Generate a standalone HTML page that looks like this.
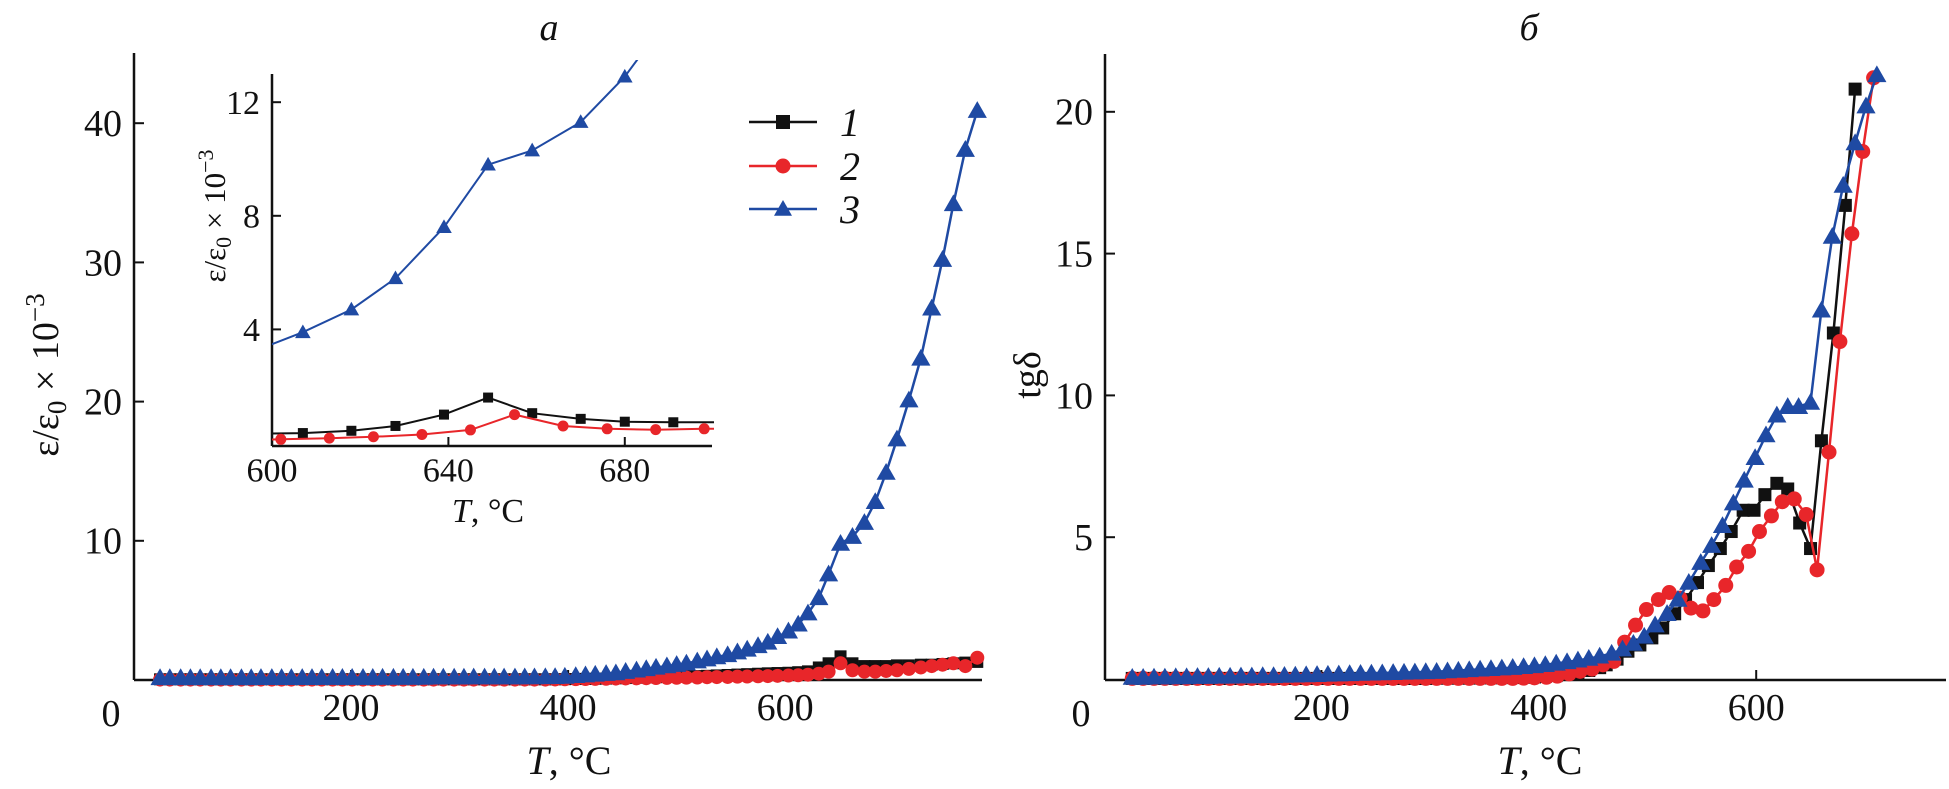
<!DOCTYPE html>
<html><head><meta charset="utf-8">
<style>
html,body{margin:0;padding:0;background:#fff;}
svg{display:block;font-family:"Liberation Serif",serif;}
</style></head>
<body>
<svg id="chart" width="1949" height="789" viewBox="0 0 1949 789" xmlns="http://www.w3.org/2000/svg">
<defs>
<clipPath id="insetClip"><rect x="272" y="60" width="442" height="386"/></clipPath>
</defs>
<g id="left"></g>
<g id="right"></g>
</svg>
<script>
// ---------- Panel a (main) ----------
const aT = [24,33,43,52,61,71,80,89,99,108,117,127,136,145,155,164,173,183,192,201,211,220,229,239,248,257,267,276,285,295,304,313,323,332,341,351,360,369,379,388,397,407,416,425,435,444,453,463,472,481,491,500,509,519,528,537,547,556,565,575,584,593,603,612,621,631,640,651,662,673,683,693,703,714,725,735,745,755,766,777];
const aBlue = [0.15,0.15,0.15,0.15,0.15,0.15,0.15,0.15,0.15,0.15,0.16,0.16,0.16,0.16,0.16,0.16,0.17,0.17,0.17,0.17,0.17,0.17,0.18,0.18,0.18,0.18,0.18,0.19,0.19,0.19,0.19,0.2,0.2,0.2,0.2,0.2,0.21,0.21,0.22,0.23,0.25,0.3,0.35,0.4,0.45,0.5,0.6,0.7,0.8,0.9,1.0,1.1,1.2,1.35,1.5,1.65,1.8,2.0,2.2,2.45,2.7,3.1,3.5,4.0,4.8,5.9,7.6,9.8,10.3,11.3,12.8,14.9,17.3,20.1,23.1,26.7,30.2,34.2,38.1,40.9];
const aBlack = [0.05,0.05,0.05,0.05,0.05,0.05,0.05,0.05,0.05,0.05,0.05,0.05,0.05,0.05,0.05,0.05,0.05,0.05,0.05,0.05,0.05,0.05,0.05,0.05,0.05,0.05,0.05,0.05,0.05,0.05,0.05,0.05,0.05,0.05,0.05,0.05,0.05,0.05,0.05,0.05,0.06,0.07,0.08,0.09,0.1,0.12,0.14,0.16,0.18,0.2,0.22,0.24,0.26,0.28,0.3,0.33,0.36,0.39,0.42,0.45,0.48,0.5,0.52,0.56,0.62,0.9,1.2,1.7,1.2,1.0,1.0,1.0,1.05,1.05,1.1,1.1,1.15,1.2,1.25,1.3];
const aRed = [0.03,0.03,0.03,0.03,0.03,0.03,0.03,0.03,0.03,0.03,0.03,0.03,0.03,0.03,0.03,0.03,0.03,0.03,0.03,0.03,0.03,0.03,0.03,0.03,0.03,0.03,0.03,0.03,0.03,0.03,0.03,0.03,0.03,0.03,0.03,0.03,0.03,0.03,0.03,0.04,0.05,0.06,0.07,0.08,0.09,0.1,0.11,0.12,0.13,0.14,0.15,0.16,0.17,0.18,0.2,0.21,0.22,0.24,0.25,0.27,0.28,0.3,0.32,0.34,0.38,0.45,0.6,1.2,0.7,0.6,0.6,0.65,0.7,0.8,0.9,1.0,1.1,1.2,1.0,1.6];
const aXTicks = [200,400,600];
const aYTicks = [10,20,30,40];

// ---------- Panel a (inset) ----------
const iTBlue = [597,607,618,628,639,649,659,670,680,690];
const iBlue = [3.3,3.9,4.7,5.8,7.6,9.8,10.3,11.3,12.9,15.0];
const iTBlack = [597,607,618,628,639,649,659,670,680,691,703];
const iBlack = [0.33,0.35,0.43,0.6,1.0,1.6,1.05,0.85,0.75,0.73,0.73];
const iTRed = [598,602,613,623,634,645,655,666,676,687,698,703];
const iRed = [0.12,0.13,0.17,0.22,0.3,0.46,1.0,0.6,0.5,0.47,0.5,0.5];
const iXTicks = [600,640,680];
const iYTicks = [4,8,12];

// ---------- Panel b ----------
const bTBlue = [26,36,46,56,66,76,86,96,106,116,126,136,146,156,166,176,186,196,206,216,226,236,246,256,266,276,286,296,306,316,326,336,346,356,366,376,386,396,406,416,426,436,446,456,467,477,487,497,507,518,528,538,549,559,569,579,589,599,609,619,629,639,650,660,670,680,691,701,711];
const bBlue = [0.05,0.05,0.06,0.06,0.07,0.07,0.08,0.08,0.09,0.09,0.1,0.1,0.11,0.11,0.12,0.13,0.14,0.15,0.16,0.17,0.18,0.19,0.2,0.21,0.22,0.23,0.24,0.25,0.26,0.28,0.3,0.32,0.34,0.36,0.38,0.4,0.43,0.46,0.5,0.55,0.6,0.66,0.72,0.8,0.9,1.05,1.25,1.5,1.9,2.3,2.8,3.4,4.1,4.7,5.4,6.2,7.0,7.8,8.6,9.3,9.6,9.6,9.75,13.0,15.6,17.4,18.9,20.2,21.3];
const bTBlack = [26,36,46,56,66,76,86,96,106,116,126,136,146,156,166,176,186,196,206,216,226,236,246,256,266,276,286,296,306,316,326,336,346,356,366,376,386,396,406,416,426,436,446,456,462,472,482,493,504,514,525,535,546,556,567,577,588,598,608,619,629,640,650,660,671,682,691];
const bBlack = [0.02,0.02,0.02,0.02,0.02,0.02,0.02,0.02,0.02,0.02,0.02,0.02,0.02,0.02,0.02,0.02,0.02,0.02,0.02,0.02,0.02,0.02,0.02,0.02,0.02,0.02,0.02,0.02,0.03,0.03,0.03,0.03,0.04,0.04,0.05,0.05,0.06,0.07,0.09,0.12,0.16,0.22,0.3,0.4,0.5,0.7,0.98,1.2,1.45,1.8,2.3,2.8,3.4,4.0,4.6,5.2,5.95,5.95,6.5,6.9,6.7,5.5,4.6,8.4,12.2,16.7,20.8];
const bTRed = [26,36,46,56,66,76,86,96,106,116,126,136,146,156,166,176,186,196,206,216,226,236,246,256,266,276,286,296,306,316,326,336,346,356,366,376,386,396,407,417,428,438,449,459,469,479,489,499,510,520,530,540,551,561,572,582,593,603,614,624,635,646,656,667,677,688,698,708];
const bRed = [0.02,0.02,0.02,0.02,0.02,0.02,0.02,0.02,0.02,0.02,0.02,0.02,0.02,0.02,0.02,0.02,0.02,0.02,0.02,0.02,0.02,0.02,0.02,0.02,0.02,0.02,0.02,0.02,0.02,0.02,0.02,0.02,0.02,0.02,0.02,0.02,0.03,0.04,0.06,0.1,0.18,0.27,0.35,0.5,0.62,1.3,1.9,2.45,2.8,3.05,2.85,2.5,2.4,2.8,3.3,3.95,4.5,5.2,5.75,6.25,6.35,5.8,3.85,8.0,11.9,15.7,18.6,21.2];
const bXTicks = [200,400,600];
const bYTicks = [5,10,15,20];

const NS = "http://www.w3.org/2000/svg";
const BLACK = "#111", RED = "#e8262a", BLUE = "#1f4aa3";
function mk(tag, attrs, parent){
  const e = document.createElementNS(NS, tag);
  for (const k in attrs) e.setAttribute(k, attrs[k]);
  parent.appendChild(e);
  return e;
}
function txt(parent, x, y, s, size, anchor, style){
  const t = mk('text', {x:x, y:y, 'font-size':size, 'text-anchor':anchor||'middle', fill:'#111'}, parent);
  if (style) t.setAttribute('font-style', style);
  t.textContent = s;
  return t;
}
function marker(g, kind, x, y, s, color){
  let m;
  if (kind === 'square') m = mk('rect', {x:x-s/2, y:y-s/2, width:s, height:s, fill:color}, g);
  else if (kind === 'circle') m = mk('circle', {cx:x, cy:y, r:s/2, fill:color}, g);
  else m = mk('polygon', {points:`${x},${y-s*0.6} ${x-s*0.6},${y+s*0.45} ${x+s*0.6},${y+s*0.45}`, fill:color}, g);
  return m;
}
function series(parent, name, Ts, Vs, sx, sy, color, kind, ms, lw, minT){
  const g = mk('g', {}, parent);
  
  
  const pts = Ts.map((t,i)=>sx(t).toFixed(1)+','+sy(Vs[i]).toFixed(1)).join(' ');
  const line = mk('polyline', {points:pts, fill:'none', stroke:color, 'stroke-width':lw}, g);
  
  
  Ts.forEach((t,i)=>{
    if (minT !== undefined && (t < minT || t > 700)) return;
    const m = marker(g, kind, sx(t), sy(Vs[i]), ms, color);
    
    
  });
  return g;
}
function axes(parent, name, x0, yB, yTop, xEnd, sx, sy, xt, yt, fs, tick){
  const g = mk('g', {}, parent);
  
  
  const ya = mk('line', {x1:x0, y1:yTop, x2:x0, y2:yB, stroke:'#111', 'stroke-width':2.5}, g);
  
  
  const xa = mk('line', {x1:x0, y1:yB, x2:xEnd, y2:yB, stroke:'#111', 'stroke-width':2.5}, g);
  
  
  xt.forEach(v=>{
    const l = mk('line', {x1:sx(v), y1:yB, x2:sx(v), y2:yB-tick, stroke:'#111', 'stroke-width':2}, g);
    
    
    const t = txt(g, sx(v), yB + fs*1.05, String(v), fs);
    
    
  });
  yt.forEach(v=>{
    const l = mk('line', {x1:x0, y1:sy(v), x2:x0+tick, y2:sy(v), stroke:'#111', 'stroke-width':2}, g);
    
    
    const t = txt(g, x0 - 12, sy(v) + fs*0.34, String(v), fs, 'end');
    
    
  });
  return g;
}

// ===== Left panel =====
const L = document.getElementById('left');
const ax = t => 134 + t*1.0853;
const ay = v => 680 - v*13.92;
axes(L, 'main-axes-a', 134, 680, 53, 982, ax, ay, aXTicks, aYTicks, 38, 10);
let z = txt(L, 111, 726, '0', 38);  
let tt = txt(L, 549, 40, 'a', 38, 'middle', 'italic');  
let xl = mk('text', {x:569, y:774, 'font-size':40, 'text-anchor':'middle', fill:'#111'}, L);
xl.innerHTML = '<tspan font-style="italic">T</tspan>, °C';
 
let yl = mk('text', {x:0, y:0, 'font-size':38, 'text-anchor':'middle', fill:'#111', transform:'translate(58,375) rotate(-90)'}, L);
yl.innerHTML = 'ε/ε<tspan font-size="27" dy="8">0</tspan><tspan dy="-8"> × 10</tspan><tspan font-size="27" dy="-14">−3</tspan>';
 

series(L, 'series-1-a', aT, aBlack, ax, ay, BLACK, 'square', 12, 2.5);
series(L, 'series-2-a', aT, aRed, ax, ay, RED, 'circle', 14, 2.5);
series(L, 'series-3-a', aT, aBlue, ax, ay, BLUE, 'triangle', 16, 2.5);

// inset
const ix = t => 272 + (t-600)*4.41;
const iy = v => 443 - v*28.4;
const IG = mk('g', {}, L);


axes(IG, 'inset-axes', 272, 446, 74, 712, ix, iy, iXTicks, iYTicks, 34, 9);
let ixl = mk('text', {x:488, y:522, 'font-size':34, 'text-anchor':'middle', fill:'#111'}, IG);
ixl.innerHTML = '<tspan font-style="italic">T</tspan>, °C';
 
let iyl = mk('text', {x:0, y:0, 'font-size':31, 'text-anchor':'middle', fill:'#111', transform:'translate(225,216) rotate(-90)'}, IG);
iyl.innerHTML = 'ε/ε<tspan font-size="22" dy="6">0</tspan><tspan dy="-6"> × 10</tspan><tspan font-size="22" dy="-12">−3</tspan>';
 
const IC = mk('g', {'clip-path':'url(#insetClip)'}, IG);
series(IC, 'inset-series-1', iTBlack, iBlack, ix, iy, BLACK, 'square', 10, 2, 600);
series(IC, 'inset-series-2', iTRed, iRed, ix, iy, RED, 'circle', 11, 2, 600.5);
series(IC, 'inset-series-3', iTBlue, iBlue, ix, iy, BLUE, 'triangle', 13, 2, 600);

// legend
const LG = mk('g', {}, L);


[['1',BLACK,'square',122],['2',RED,'circle',166],['3',BLUE,'triangle',209]].forEach(r=>{
  const e = mk('g', {}, LG);
  
  
  mk('line', {x1:749, y1:r[3], x2:817, y2:r[3], stroke:r[1], 'stroke-width':2.5}, e);
  marker(e, r[2], 783, r[3], r[2]==='square'?14:15, r[1]);
  txt(e, 840, r[3]+14, r[0], 40, 'start', 'italic');
});

// ===== Right panel =====
const R = document.getElementById('right');
const bx = t => 1104 + t*1.087;
const by = v => 679 - v*28.36;
axes(R, 'axes-b', 1105, 680, 54, 1946, bx, by, bXTicks, bYTicks, 38, 10);
let z2 = txt(R, 1081, 726, '0', 38);  
let tt2 = txt(R, 1529, 40, 'б', 38, 'middle', 'italic');  
let xl2 = mk('text', {x:1540, y:774, 'font-size':40, 'text-anchor':'middle', fill:'#111'}, R);
xl2.innerHTML = '<tspan font-style="italic">T</tspan>, °C';
 
let yl2 = mk('text', {x:0, y:0, 'font-size':38, 'text-anchor':'middle', fill:'#111', transform:'translate(1040,375) rotate(-90)'}, R);
yl2.textContent = 'tgδ';
 

series(R, 'series-1-b', bTBlack, bBlack, bx, by, BLACK, 'square', 13, 2.5);
series(R, 'series-2-b', bTRed, bRed, bx, by, RED, 'circle', 15, 2.5);
series(R, 'series-3-b', bTBlue, bBlue, bx, by, BLUE, 'triangle', 16, 2.5);
</script>
</body></html>
